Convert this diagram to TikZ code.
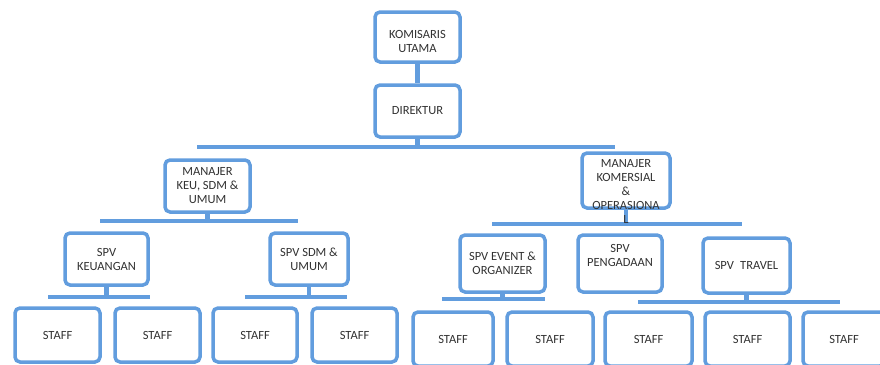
\documentclass[tikz,border=0pt]{standalone}
\usepackage{fontspec}
\setmainfont{Carlito}
\usetikzlibrary{backgrounds}
\definecolor{boxblue}{RGB}{98,157,222}
\definecolor{txtgray}{RGB}{50,50,50}
\begin{document}
\begin{tikzpicture}[x=1pt,y=-1pt,
  box/.style={draw=boxblue, line width=3.5pt, fill=white, rounded corners=5pt, inner sep=0pt, align=center, text=txtgray, font=\fontsize{12.5}{14}\selectfont},
  txt/.style={inner sep=0pt, align=center, text=txtgray, font=\fontsize{12.5}{14}\selectfont},
  sz/.style 2 args={minimum width=#1pt, minimum height=#2pt},
  bus/.style={draw=boxblue, line width=4.5pt}]
\useasboundingbox (0,0) rectangle (880,364);
\clip (0,0) rectangle (880,364);
% top
\node[box, sz={85}{50}] (kom) at (417.5,37) {};
\node[txt] (komt) at (417.5,41) {KOMISARIS\\UTAMA};
\node[box, sz={85}{52}] (dir) at (417.5,111) {DIREKTUR};
% managers
\node[box, sz={85}{52}] (mkeu) at (207.5,186) {MANAJER\\KEU, SDM \&\\UMUM};
\node[box, sz={88}{55}] (mkom) at (626,180.5) {};
% supervisors
\node[box, sz={83}{52}] (skeu) at (106.5,259) {SPV\\KEUANGAN};
\node[box, sz={78}{52}] (ssdm) at (309,259) {SPV SDM \&\\UMUM};
\node[box, sz={85}{57}] (sev) at (502.5,263.5) {SPV EVENT \&\\ORGANIZER};
\node[box, sz={84}{57}] (spg) at (620,263.5) {};
\node[txt] (spgt) at (620,255) {SPV\\PENGADAAN};
\node[box, sz={87}{55}] (str) at (746.5,265.5) {SPV\enspace TRAVEL};
% staff left
\node[box, sz={85}{54}] (st1) at (57.5,335) {STAFF};
\node[box, sz={85}{54}] (st2) at (157.5,335) {STAFF};
\node[box, sz={84}{54}] (st3) at (255,335) {STAFF};
\node[box, sz={85}{54}] (st4) at (354.5,335) {STAFF};
% staff right
\node[box, sz={80}{54}] (st5) at (453,339) {STAFF};
\node[box, sz={86}{54}] (st6) at (550,339) {STAFF};
\node[box, sz={87}{54}] (st7) at (648.5,339) {STAFF};
\node[box, sz={85}{54}] (st8) at (747.5,339) {STAFF};
\node[box, sz={82}{54}] (st9) at (844,339) {STAFF};
% connectors
\coordinate (b1l) at (197,147); \coordinate (b1r) at (615,147);
\coordinate (b2l) at (100,221); \coordinate (b2r) at (298,221);
\coordinate (b3l) at (492,224); \coordinate (b3r) at (742,224);
\coordinate (b4l) at (48,297);  \coordinate (b4r) at (150,297);
\coordinate (b5l) at (245,297); \coordinate (b5r) at (347,297);
\coordinate (b6l) at (442,299); \coordinate (b6r) at (545,299);
\coordinate (b7l) at (638,302); \coordinate (b7r) at (840,302);
\begin{pgfonlayer}{background}
\draw[bus] (kom.south) -- (dir.north);
\draw[bus] (dir.south) -- (dir.south |- b1l); \draw[bus] (b1l) -- (b1r);
\draw[bus] (mkeu.south) -- (mkeu.south |- b2l); \draw[bus] (b2l) -- (b2r);
\draw[bus] (mkom.south) -- (mkom.south |- b3l); \draw[bus] (b3l) -- (b3r);
\draw[bus] (skeu.south) -- (skeu.south |- b4l); \draw[bus] (b4l) -- (b4r);
\draw[bus] (ssdm.south) -- (ssdm.south |- b5l); \draw[bus] (b5l) -- (b5r);
\draw[bus] (sev.south) -- (sev.south |- b6l); \draw[bus] (b6l) -- (b6r);
\draw[bus] (str.south) -- (str.south |- b7l); \draw[bus] (b7l) -- (b7r);
\end{pgfonlayer}
% manager text drawn last so that it sits over the bar
\node[txt] (mkomt) at (626,191) {MANAJER\\KOMERSIAL\\\&\\OPERASIONA\\L};
\end{tikzpicture}
\end{document}
